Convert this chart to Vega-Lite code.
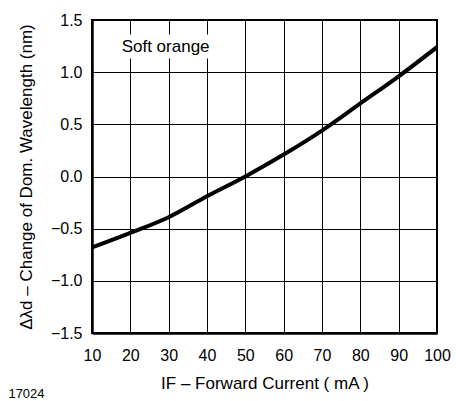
{
  "$schema": "https://vega.github.io/schema/vega-lite/v6.json",
  "autosize": "none",
  "width": 345,
  "height": 313,
  "padding": {"left": 92, "top": 20, "right": 19, "bottom": 68},
  "background": "white",
  "title": {
    "text": "17024",
    "orient": "bottom",
    "anchor": "start",
    "frame": "bounds",
    "font": "Liberation Sans",
    "fontSize": 13,
    "fontWeight": "normal",
    "color": "black",
    "offset": 0,
    "dx": -9,
    "dy": -3
  },
  "config": {
    "font": "Liberation Sans",
    "view": {"stroke": "black", "strokeWidth": 2},
    "axis": {
      "labelFont": "Liberation Sans",
      "titleFont": "Liberation Sans",
      "labelFontSize": 16,
      "titleFontSize": 17,
      "titleFontWeight": "normal",
      "labelColor": "black",
      "titleColor": "black",
      "labelOverlap": false,
      "labelFlush": false,
      "ticks": false,
      "grid": true,
      "gridColor": "black",
      "gridOpacity": 1,
      "gridWidth": 1,
      "domainColor": "black",
      "domainWidth": 2.5
    }
  },
  "datasets": {
    "curve": [
      {"current": 10, "shift": -0.68},
      {"current": 20, "shift": -0.54},
      {"current": 30, "shift": -0.39},
      {"current": 40, "shift": -0.19},
      {"current": 50, "shift": 0.0},
      {"current": 60, "shift": 0.21},
      {"current": 70, "shift": 0.44},
      {"current": 80, "shift": 0.70},
      {"current": 90, "shift": 0.96},
      {"current": 100, "shift": 1.24}
    ],
    "label": [
      {"x1": 16, "x2": 42, "y1": 1.13, "y2": 1.36, "xc": 29.2, "yc": 1.24, "text": "Soft orange"}
    ]
  },
  "layer": [
    {
      "data": {"name": "label"},
      "mark": {"type": "rect", "fill": "white", "stroke": null},
      "encoding": {
        "x": {"field": "x1", "type": "quantitative", "scale": {"domain": [10, 100], "nice": false, "zero": false}},
        "x2": {"field": "x2"},
        "y": {"field": "y1", "type": "quantitative", "scale": {"domain": [-1.5, 1.5], "nice": false, "zero": false}},
        "y2": {"field": "y2"}
      }
    },
    {
      "data": {"name": "label"},
      "mark": {"type": "text", "font": "Liberation Sans", "fontSize": 17, "color": "black", "align": "center", "baseline": "middle"},
      "encoding": {
        "x": {"field": "xc", "type": "quantitative"},
        "y": {"field": "yc", "type": "quantitative"},
        "text": {"field": "text"}
      }
    },
    {
      "data": {"name": "curve"},
      "mark": {"type": "line", "color": "black", "strokeWidth": 4, "interpolate": "monotone", "clip": true},
      "encoding": {
        "x": {
          "field": "current", "type": "quantitative",
          "scale": {"domain": [10, 100], "nice": false, "zero": false},
          "axis": {"values": [10, 20, 30, 40, 50, 60, 70, 80, 90, 100], "tickCount": 20, "labelPadding": 14, "title": "IF – Forward Current ( mA )", "titlePadding": 12}
        },
        "y": {
          "field": "shift", "type": "quantitative",
          "scale": {"domain": [-1.5, 1.5], "nice": false, "zero": false},
          "axis": {"values": [-1.5, -1.0, -0.5, 0, 0.5, 1.0, 1.5], "tickCount": 20, "format": ".1f", "labelPadding": 10, "title": "Δλd – Change of Dom. Wavelength (nm)", "titlePadding": 15}
        }
      }
    }
  ]
}
